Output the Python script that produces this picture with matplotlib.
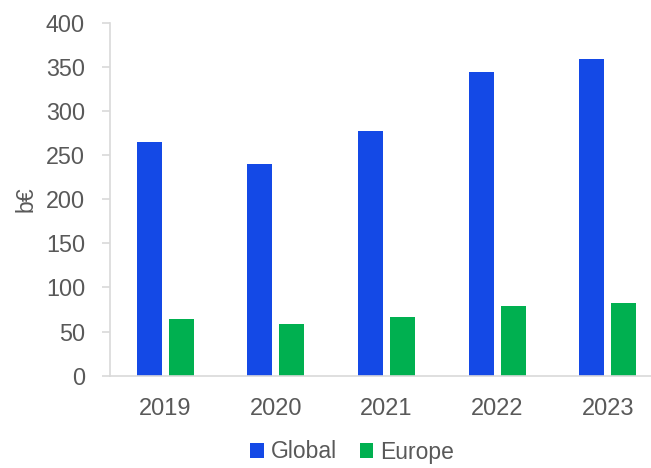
import numpy as np
import matplotlib.pyplot as plt

plt.rcParams['font.family'] = ['Liberation Sans', 'DejaVu Sans']

years = ['2019', '2020', '2021', '2022', '2023']
global_vals = [264.5, 240, 277, 344, 358.5]
europe_vals = [64, 59, 66.5, 79, 82.5]

blue = '#1449E6'
green = '#00B050'
grey_txt = '#595959'
grey_line = '#D9D9D9'

fig = plt.figure(figsize=(6.51, 4.68), dpi=100)
ax = fig.add_axes([110 / 651, 1 - 375.7 / 468, 553 / 651, 353 / 468])

x = np.arange(len(years))
w = 0.226
off = 0.145
ax.bar(x - off, global_vals, width=w, color=blue, label='Global')
ax.bar(x + off, europe_vals, width=w, color=green, label='Europe')

ax.set_xlim(-0.5, 4.5)
ax.set_ylim(0, 400)
ax.set_yticks(range(0, 401, 50))
ax.set_xticks(x)
ax.set_xticklabels(years)

for s in ['top', 'right']:
    ax.spines[s].set_visible(False)
for s in ['left', 'bottom']:
    ax.spines[s].set_color(grey_line)
    ax.spines[s].set_linewidth(1.2)

ax.tick_params(axis='y', length=6, width=1.2, color=grey_line, pad=12,
               labelsize=16.8, labelcolor=grey_txt)
ax.tick_params(axis='x', length=0, pad=16, labelsize=17, labelcolor=grey_txt)

ax.set_ylabel('b€', fontsize=16.5, color=grey_txt)
ax.yaxis.set_label_coords(-0.131, 0.5)

fig.legend(loc='center', bbox_to_anchor=(352 / 651, 16 / 468), ncol=2,
           frameon=False, fontsize=16.5, labelcolor=grey_txt,
           handlelength=0.6, handleheight=0.6, handletextpad=0.3,
           columnspacing=1.0)

fig.savefig('out.png', dpi=100)
